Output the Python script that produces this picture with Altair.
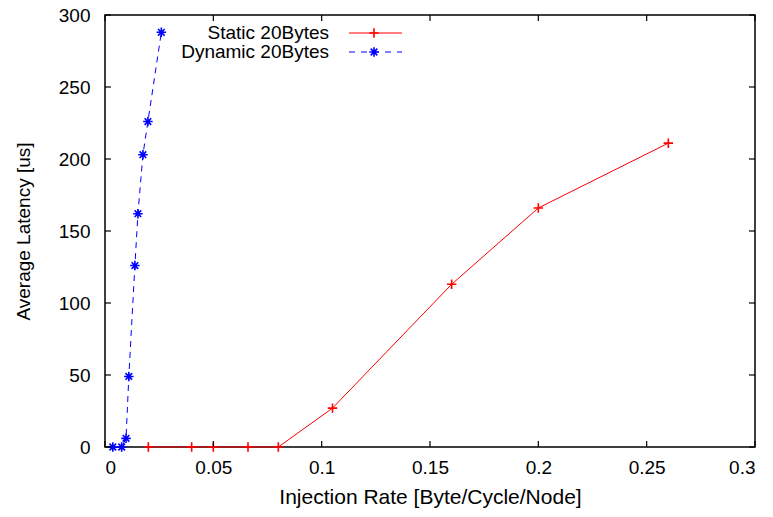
import altair as alt
import pandas as pd

static_x = [0.020, 0.040, 0.050, 0.066, 0.080, 0.105, 0.160, 0.200, 0.260]
static_y = [0, 0, 0, 0, 0, 27, 113, 166, 211]
dyn_x = [0.0036, 0.0077, 0.0097, 0.011, 0.0138, 0.0152, 0.0175, 0.0198, 0.026]
dyn_y = [0, 0, 6, 49, 126, 162, 203, 226, 288]
x_ticks = [0, 0.05, 0.1, 0.15, 0.2, 0.25, 0.3]
y_ticks = [0, 50, 100, 150, 200, 250, 300]

W, H = 650, 432
FONT = "Liberation Sans"
PLUS = "M-1,0L1,0M0,-1L0,1"
STAR = "M-1,0L1,0M0,-1L0,1M-0.7,-0.7L0.7,0.7M-0.7,0.7L0.7,-0.7"

sdf = pd.DataFrame({"x": static_x, "y": static_y})
ddf = pd.DataFrame({"x": dyn_x, "y": dyn_y})
xt = pd.DataFrame({"v": x_ticks})
yt = pd.DataFrame({"v": y_ticks})

xs = alt.Scale(domain=[0, 0.3], nice=False, zero=False)
ys = alt.Scale(domain=[0, 300], nice=False, zero=False)

xenc = alt.X("x:Q", scale=xs, axis=alt.Axis(
    title="Injection Rate [Byte/Cycle/Node]", values=x_ticks, ticks=False, domain=False,
    grid=False, labelFont=FONT, labelFontSize=19, titleFont=FONT, titleFontSize=21,
    titleFontWeight="normal", labelColor="black", titleColor="black", labelPadding=11,
    titlePadding=9, format="~g"))
yenc = alt.Y("y:Q", scale=ys, axis=alt.Axis(
    title="Average Latency [us]", values=y_ticks, ticks=False, domain=False,
    grid=False, labelFont=FONT, labelFontSize=19, titleFont=FONT, titleFontSize=19,
    titleFontWeight="normal", labelColor="black", titleColor="black", labelPadding=15,
    titlePadding=25))

static_line = alt.Chart(sdf).mark_line(color="red", strokeWidth=1).encode(x=xenc, y=yenc)
static_pts = alt.Chart(sdf).mark_point(shape=PLUS, size=90, color="red", strokeWidth=1.6, filled=False, opacity=1).encode(
    x=alt.X("x:Q", scale=xs), y=alt.Y("y:Q", scale=ys))
dyn_line = alt.Chart(ddf).mark_line(color="blue", strokeWidth=1, strokeDash=[6, 5]).encode(
    x=alt.X("x:Q", scale=xs), y=alt.Y("y:Q", scale=ys))
dyn_pts = alt.Chart(ddf).mark_point(shape=STAR, size=90, color="blue", strokeWidth=1.6, filled=False, opacity=1).encode(
    x=alt.X("x:Q", scale=xs), y=alt.Y("y:Q", scale=ys))

tk = 6
xb = alt.Chart(xt).mark_rule(color="black", strokeWidth=1.2).encode(
    x=alt.X("v:Q", scale=xs), y=alt.value(H), y2=alt.value(H - tk))
xtp = alt.Chart(xt).mark_rule(color="black", strokeWidth=1.2).encode(
    x=alt.X("v:Q", scale=xs), y=alt.value(0), y2=alt.value(tk))
yl = alt.Chart(yt).mark_rule(color="black", strokeWidth=1.2).encode(
    y=alt.Y("v:Q", scale=ys), x=alt.value(0), x2=alt.value(tk))
yr = alt.Chart(yt).mark_rule(color="black", strokeWidth=1.2).encode(
    y=alt.Y("v:Q", scale=ys), x=alt.value(W), x2=alt.value(W - tk))

leg_s = pd.DataFrame({"n": ["Static 20Bytes"]})
leg_d = pd.DataFrame({"n": ["Dynamic 20Bytes"]})
lt1 = alt.Chart(leg_s).mark_text(align="right", baseline="middle", font=FONT, fontSize=19, color="black").encode(
    text="n:N", x=alt.value(224), y=alt.value(18))
lt2 = alt.Chart(leg_d).mark_text(align="right", baseline="middle", font=FONT, fontSize=19, color="black").encode(
    text="n:N", x=alt.value(224), y=alt.value(37))
ll1 = alt.Chart(leg_s).mark_rule(color="red", strokeWidth=1).encode(
    x=alt.value(244), x2=alt.value(297), y=alt.value(18))
lp1 = alt.Chart(leg_s).mark_point(shape=PLUS, size=90, color="red", strokeWidth=1.6, opacity=1).encode(
    x=alt.value(269), y=alt.value(18))
ll2 = alt.Chart(leg_d).mark_rule(color="blue", strokeWidth=1, strokeDash=[6, 6]).encode(
    x=alt.value(244), x2=alt.value(297), y=alt.value(37))
lp2 = alt.Chart(leg_d).mark_point(shape=STAR, size=90, color="blue", strokeWidth=1.6, opacity=1).encode(
    x=alt.value(269), y=alt.value(37))

chart = alt.layer(static_line, static_pts, dyn_line, dyn_pts, xb, xtp, yl, yr,
                  lt1, lt2, ll1, lp1, ll2, lp2).properties(
    width=W, height=H,
    autosize=alt.AutoSizeParams(type="none"),
    padding={"left": 105, "top": 15, "right": 18, "bottom": 70},
    background="white",
).configure_view(stroke="black", strokeWidth=1.5)

chart.save("out.html", embed_options={"renderer": "svg", "actions": False})
